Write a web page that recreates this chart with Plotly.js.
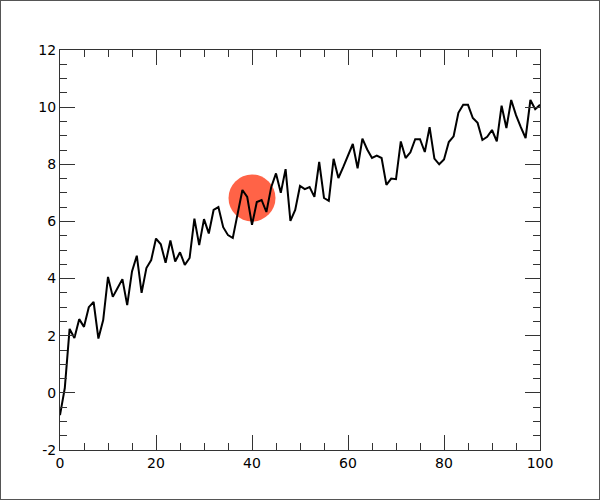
<!DOCTYPE html>
<html>
<head>
<meta charset="utf-8">
<script src="https://cdn.plot.ly/plotly-3.0.1.min.js"></script>
<style>
  body { margin: 0; background: #fff; }
  #wrap { position: relative; width: 600px; height: 500px; }
  #plot { width: 600px; height: 500px; }
  #frame { position: absolute; left: 0; top: 0; width: 600px; height: 500px;
           box-sizing: border-box; border: 1px solid #555; pointer-events: none; }
</style>
</head>
<body>
<div id="wrap">
  <div id="plot"></div>
  <div id="frame"></div>
</div>
<script>
// signal, one value per x step (x = 0..100)
var signal = [
  -0.78, 0.17, 2.24, 1.92, 2.58, 2.31, 3.0, 3.18, 1.9, 2.55,
  4.06, 3.36, 3.67, 3.98, 3.07, 4.25, 4.8, 3.5, 4.37, 4.65,
  5.4, 5.2, 4.55, 5.33, 4.6, 4.92, 4.48, 4.72, 6.1, 5.17,
  6.08, 5.58, 6.4, 6.5, 5.8, 5.52, 5.42, 6.25, 7.1, 6.86,
  5.88, 6.68, 6.75, 6.33, 7.2, 7.68, 7.0, 7.83, 6.02, 6.4,
  7.24, 7.13, 7.2, 6.86, 8.08, 6.82, 6.72, 8.19, 7.52, 7.9,
  8.33, 8.71, 7.86, 8.9, 8.52, 8.22, 8.3, 8.22, 7.28, 7.5,
  7.48, 8.8, 8.22, 8.42, 8.88, 8.88, 8.43, 9.3, 8.2, 8.0,
  8.17, 8.78, 8.98, 9.8, 10.08, 10.08, 9.62, 9.45, 8.85, 8.96,
  9.2, 8.8, 10.05, 9.27, 10.25, 9.72, 9.3, 8.92, 10.25, 9.93,
  10.08
];

// highlighted point
var markX = [40],
  markY = [6.82];

// tick labels
var xTickVals = [0, 20, 40, 60, 80, 100],
  xTickText = ["0", "20", "40", "60", "80", "100"],
  yTickVals = [-2, 0, 2, 4, 6, 8, 10, 12],
  yTickText = ["-2", "0", "2", "4", "6", "8", "10", "12"];

var circle = {
  x: markX,
  y: markY,
  mode: 'markers',
  type: 'scatter',
  marker: {size: 47, color: '#ff6347', line: {width: 0}},
  hoverinfo: 'skip'
};

var line = {
  y: signal,
  mode: 'lines',
  type: 'scatter',
  line: {color: 'black', width: 2}
};

function axis(vals, text, rng, minorStep) {
  return {
    range: rng,
    tickmode: 'array',
    tickvals: vals,
    ticktext: text,
    ticks: 'inside',
    ticklen: 15,
    tickwidth: 1,
    tickcolor: '#333',
    showline: true,
    linecolor: '#333',
    linewidth: 1,
    mirror: 'allticks',
    showgrid: false,
    zeroline: false,
    minor: {dtick: minorStep, ticks: 'inside', ticklen: 7, tickcolor: '#333', tickwidth: 1, showgrid: false},
    tickfont: {family: 'DejaVu Sans', size: 14, color: 'black'}
  };
}

var layout = {
  width: 600,
  height: 500,
  margin: {l: 60, r: 60, t: 50, b: 50},
  paper_bgcolor: 'white',
  plot_bgcolor: 'white',
  showlegend: false,
  xaxis: axis(xTickVals, xTickText, [0, 100], 5),
  yaxis: axis(yTickVals, yTickText, [-2, 12], 0.5)
};

Plotly.newPlot('plot', [circle, line], layout, {displayModeBar: false, staticPlot: true});
</script>
</body>
</html>
